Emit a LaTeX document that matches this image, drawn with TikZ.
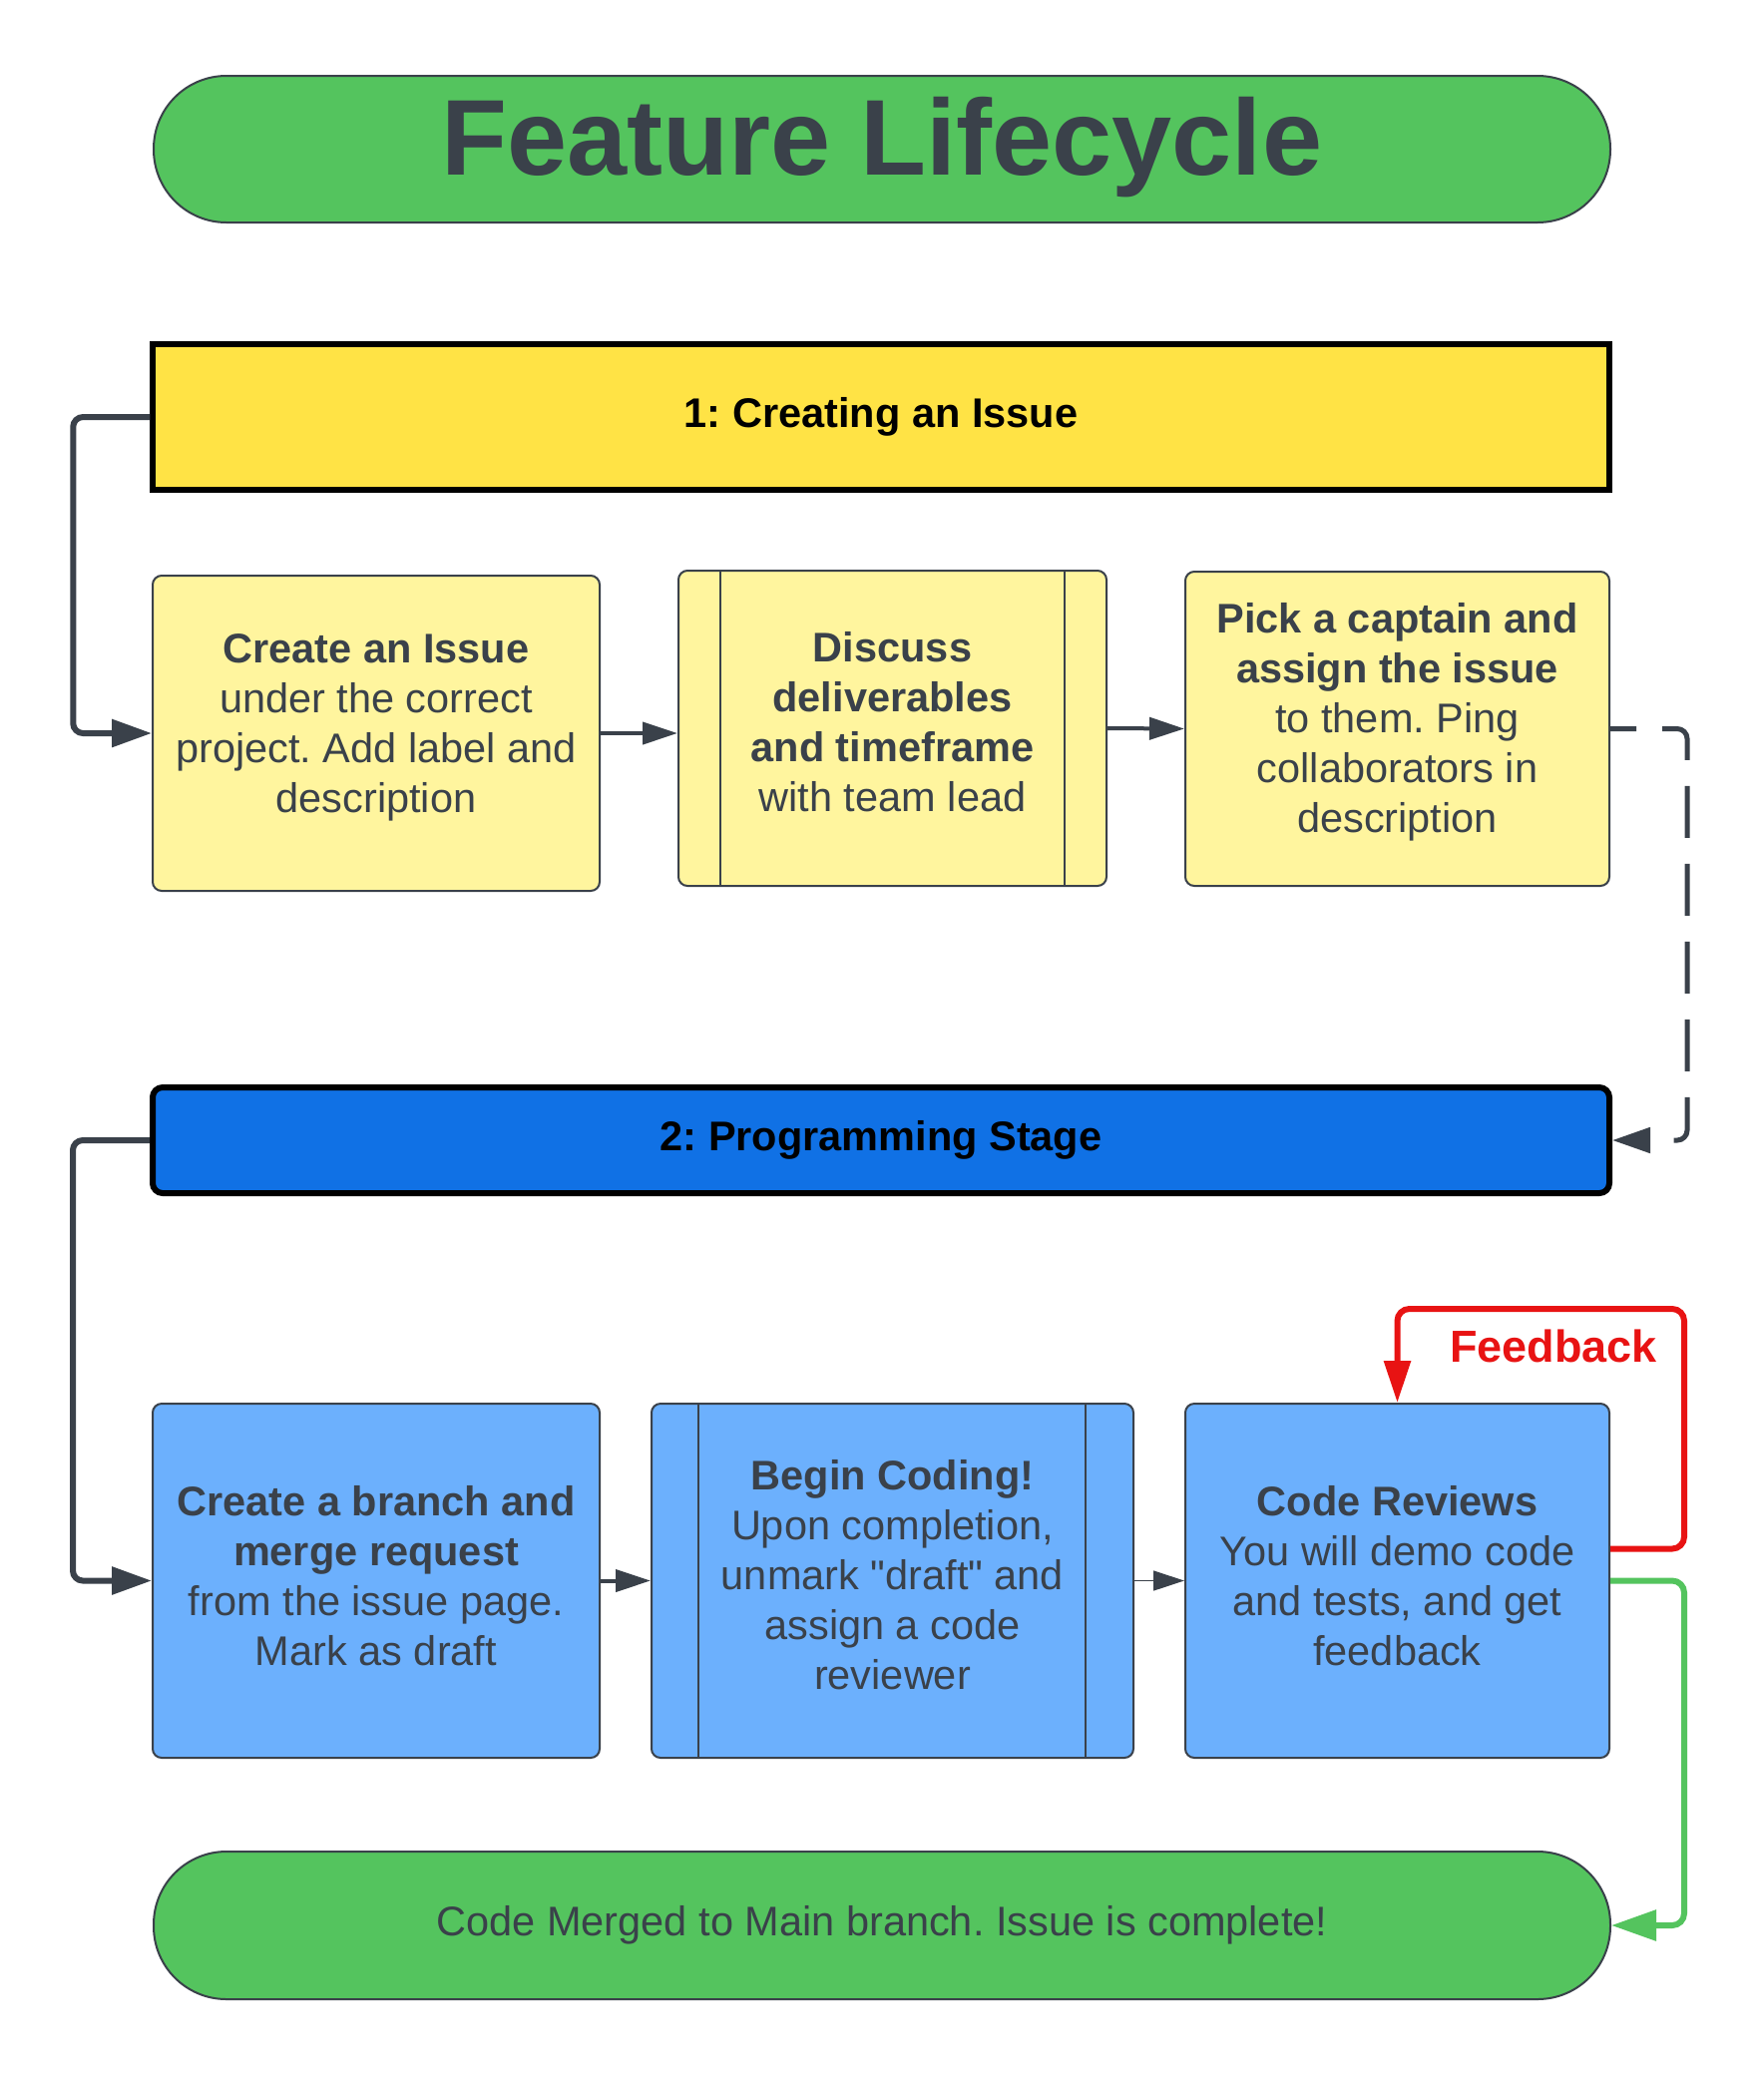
\documentclass[tikz,border=0pt]{standalone}
\usepackage{fontspec}
\setmainfont{Liberation Sans}[Ligatures=TeXOff]
\usetikzlibrary{arrows.meta,calc}
\definecolor{dk}{HTML}{3A414A}
\definecolor{pillgreen}{HTML}{54C45E}
\definecolor{hdryellow}{HTML}{FFE345}
\definecolor{ltyellow}{HTML}{FFF59E}
\definecolor{hdrblue}{HTML}{1071E5}
\definecolor{ltblue}{HTML}{6CB0FD}
\definecolor{fbred}{HTML}{E81313}
\begin{document}
\frenchspacing
\begin{tikzpicture}[x=1pt,y=-1pt,
  boxtext/.style={align=center, text=dk, font=\frenchspacing\fontsize{41.5}{50}\selectfont, inner sep=0pt},
  box/.style={draw=dk, line width=2pt, rounded corners=9pt, inner sep=0pt},
  ybox/.style={box, fill=ltyellow},
  bbox/.style={box, fill=ltblue},
  pill/.style={draw=dk, line width=2pt, fill=pillgreen, rounded corners=73pt, inner sep=0pt},
  pilltext/.style={text=dk, inner sep=0pt},
  hdr/.style={align=center, font=\frenchspacing\fontsize{41.5}{50}\selectfont\bfseries, text=black, inner sep=0pt},
  innerline/.style={draw=dk, line width=1.5pt},
  conn/.style={draw=dk, line width=6pt, rounded corners=10pt, -{Triangle[length=40pt,width=27pt]}},
  shortconn/.style={draw=dk, line width=4pt, -{Triangle[length=35pt,width=22pt]}},
  thinconn/.style={draw=dk, line width=1.5pt, -{Triangle[length=31pt,width=20pt]}},
  dashconn/.style={draw=dk, line width=5pt, rounded corners=10pt, dash pattern=on 52pt off 26pt, dash phase=26pt, -{Triangle[length=38pt,width=25pt]}},
  redconn/.style={draw=fbred, line width=6pt, rounded corners=12pt, -{Triangle[length=42pt,width=26pt]}},
  greenconn/.style={draw=pillgreen, line width=6pt, rounded corners=12pt, -{Triangle[length=45pt,width=30pt]}}
]
\useasboundingbox[fill=white] (0,0) rectangle (1768,2081);

% title
\node[pill, minimum width=1460, minimum height=147] (T) at (884,149.5) {};
\node[pilltext, font=\fontsize{108}{120}\selectfont\bfseries] (Tt) at ($(T.center)+(0,-2)$) {Feature Lifecycle};

% stage 1
\node[hdr, draw=black, line width=5.5pt, fill=hdryellow, minimum width=1460, minimum height=146] (H1) at (883,418) {1: Creating an Issue};

\node[ybox, minimum width=448, minimum height=316] (A) at (377,735) {};
\node[boxtext] (At) at ($(A.center)+(0,-6)$)
  {\textbf{Create an Issue}\\under the correct\\project. Add label and\\description};
\node[ybox, minimum width=429, minimum height=316] (B) at (894.5,730) {};
\node[boxtext] (Bt) at ($(B.center)+(0,-6)$)
  {\textbf{Discuss}\\\textbf{deliverables}\\\textbf{and timeframe}\\with team lead};
\draw[innerline] ($(B.north west)+(43,0)$) -- ($(B.south west)+(43,0)$);
\draw[innerline] ($(B.north east)+(-43,0)$) -- ($(B.south east)+(-43,0)$);
\node[ybox, minimum width=425, minimum height=315] (C) at (1400.5,730.5) {};
\node[boxtext] (Ct) at ($(C.center)+(0,-7)$)
  {\textbf{Pick a captain and}\\\textbf{assign the issue}\\to them. Ping\\collaborators in\\description};

% stage 2
\node[hdr, draw=black, line width=6pt, fill=hdrblue, rounded corners=10pt, minimum width=1460, minimum height=106] (H2) at (883,1143) {2: Programming Stage};

\node[bbox, minimum width=448, minimum height=355] (D) at (377,1584.5) {};
\node[boxtext] (Dt) at ($(D.center)+(0,-5)$)
  {\textbf{Create a branch and}\\\textbf{merge request}\\from the issue page.\\Mark as draft};
\node[bbox, minimum width=483, minimum height=355] (E) at (894.5,1584.5) {};
\node[boxtext] (Et) at ($(E.center)+(0,-6)$)
  {\textbf{Begin Coding!}\\Upon completion,\\unmark "draft" and\\assign a code\\reviewer};
\draw[innerline] ($(E.north west)+(48,0)$) -- ($(E.south west)+(48,0)$);
\draw[innerline] ($(E.north east)+(-49,0)$) -- ($(E.south east)+(-49,0)$);
\node[bbox, minimum width=425, minimum height=355] (F) at (1400.5,1584.5) {};
\node[boxtext] (Ft) at ($(F.center)+(0,-5)$)
  {\textbf{Code Reviews}\\You will demo code\\and tests, and get\\feedback};

% final
\node[pill, minimum width=1460, minimum height=148] (P) at (884,1930) {};
\node[pilltext, font=\frenchspacing\fontsize{41.5}{50}\selectfont] (Pt) at (P.center) {Code Merged to Main branch. Issue is complete!};

\node[anchor=base, text=fbred, font=\fontsize{45}{50}\selectfont\bfseries, inner sep=0pt] (FB) at (1557,1365) {Feedback};

% connectors
\draw[conn] (H1.west) -- ++(-77,0) |- (A.west);
\draw[shortconn] (A.east) -- (A.east -| B.west);
\draw[shortconn] (B.east) -- (C.west);
\draw[dashconn] (C.east) -- ++(77,0) |- (H2.east);
\draw[conn] (H2.west) -- ++(-77,0) |- (D.west);
\draw[shortconn] (D.east) -- (E.west);
\draw[thinconn] (E.east) -- (F.west);
\draw[redconn] ($(F.east)+(0,-32)$) -- ++(74,0) |- ($(F.north)+(0,-94)$) -- (F.north);
\draw[greenconn] (F.east) -- ++(74,0) |- (P.east);
\end{tikzpicture}
\end{document}
